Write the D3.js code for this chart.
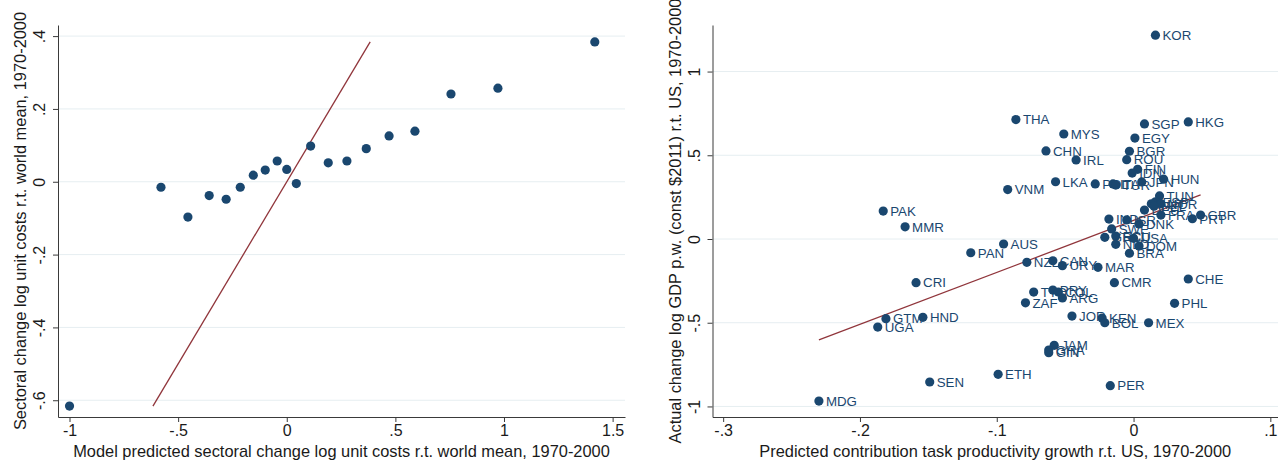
<!DOCTYPE html>
<html lang="en">
<head>
<meta charset="UTF-8">
<title>Unit costs and GDP per worker scatter</title>
<script src="https://d3js.org/d3.v7.min.js"></script>
<style>
  body { margin: 0; background: #fff; font-family: 'Liberation Sans', Arial, sans-serif; }
  .tick text { fill: #1a1a1a; font-size: 16px; }
  .title { fill: #1a1a1a; font-size: 16.4px; }
  .axis path, .axis line { stroke: #3a3a3a; }
  .grid line { stroke: #e6eef1; stroke-width: 1; }
  .lbl { fill: #1a476f; font-size: 13.3px; }
</style>
</head>
<body>
<svg id="chart" width="1278" height="460"></svg>
<script>
// ---- left panel: sectoral unit costs ----
const leftX = [-1.0, -0.579, -0.455, -0.357, -0.279, -0.214, -0.154, -0.099, -0.044, 0.000,
               0.044, 0.110, 0.191, 0.277, 0.366, 0.471, 0.590, 0.756, 0.972, 1.418];
const leftY = [-0.616, -0.015, -0.097, -0.038, -0.048, -0.015, 0.018, 0.032, 0.057, 0.034,
               -0.005, 0.098, 0.052, 0.057, 0.091, 0.126, 0.139, 0.241, 0.257, 0.384];
const leftXTicks = [-1, -0.5, 0, 0.5, 1, 1.5];
const leftXTickLabels = ["-1", "-.5", "0", ".5", "1", "1.5"];
const leftYTicks = [-0.6, -0.4, -0.2, 0, 0.2, 0.4];
const leftYTickLabels = ["-.6", "-.4", "-.2", "0", ".2", ".4"];

// ---- right panel: countries ----
const codes = ["KOR","THA","SGP","HKG","MYS","EGY","CHN","BGR","IRL","ROU",
               "FIN","IDN","HUN","JPN","LKA","POL","ITA","TUR","VNM","TUN",
               "AUT","ESP","NOR","BEL","DEU","FRA","GBR","PRT","IND","ISR",
               "DNK","SWE","GRC","ECU","USA","NLD","DOM","BRA","PAK","MMR",
               "AUS","PAN","NZL","CAN","URY","MAR","CRI","CMR","CHE","TTO",
               "PRY","COL","ARG","ZAF","PHL","GTM","HND","UGA","JOR","KEN",
               "BOL","MEX","JAM","GHA","GIN","ETH","SEN","PER","MDG"];
const predicted = [0.016,-0.086,0.008,0.040,-0.051,0.001,-0.064,-0.003,-0.042,-0.005,
                   0.003,-0.001,0.022,0.006,-0.057,-0.028,-0.015,-0.013,-0.092,0.019,
                   0.013,0.016,0.020,0.015,0.008,0.020,0.049,0.043,-0.018,-0.005,
                   0.004,-0.016,-0.021,-0.013,0.000,-0.013,0.004,-0.003,-0.183,-0.167,
                   -0.095,-0.119,-0.078,-0.059,-0.052,-0.026,-0.159,-0.014,0.040,-0.073,
                   -0.059,-0.055,-0.052,-0.079,0.030,-0.181,-0.154,-0.187,-0.045,-0.023,
                   -0.021,0.011,-0.058,-0.062,-0.062,-0.099,-0.149,-0.017,-0.230];
const actual = [1.217,0.713,0.687,0.699,0.627,0.603,0.526,0.524,0.472,0.474,
                0.416,0.394,0.357,0.341,0.342,0.329,0.329,0.322,0.295,0.257,
                0.210,0.222,0.210,0.196,0.173,0.143,0.143,0.121,0.119,0.114,
                0.090,0.060,0.010,0.018,0.004,-0.032,-0.042,-0.085,0.167,0.073,
                -0.030,-0.082,-0.139,-0.130,-0.159,-0.169,-0.261,-0.261,-0.239,-0.317,
                -0.305,-0.317,-0.352,-0.381,-0.384,-0.476,-0.468,-0.526,-0.460,-0.472,
                -0.500,-0.500,-0.635,-0.663,-0.679,-0.808,-0.854,-0.876,-0.968];
const fitX = [-0.230, 0.049];
const fitY = [-0.603, 0.263];
const rightXTicks = [-0.3, -0.2, -0.1, 0, 0.1];
const rightXTickLabels = ["-.3", "-.2", "-.1", "0", ".1"];
const rightYTicks = [-1, -0.5, 0, 0.5, 1];
const rightYTickLabels = ["-1", "-.5", "0", ".5", "1"];

const navy = "#1a476f", maroon = "#90353b";
const svg = d3.select("#chart");

function drawPanel(p) {
  const x = d3.scaleLinear().domain(p.xDomain).range([p.left, p.right]);
  const y = d3.scaleLinear().domain(p.yDomain).range([p.bottom, p.top]);
  const g = svg.append("g");

  // horizontal grid
  g.append("g").attr("class", "grid").selectAll("line")
    .data(p.yTicks).enter().append("line")
    .attr("x1", p.left).attr("x2", p.right)
    .attr("y1", d => y(d)).attr("y2", d => y(d));

  // x axis
  g.append("g").attr("class", "axis")
    .attr("transform", `translate(0,${p.bottom})`)
    .call(d3.axisBottom(x).tickValues(p.xTicks).tickSize(5).tickSizeOuter(0)
      .tickFormat((d, i) => p.xLabels[i]))
    .call(a => a.selectAll("text").attr("y", 8));

  // y axis, labels rotated like Stata
  g.append("g").attr("class", "axis")
    .attr("transform", `translate(${p.left},0)`)
    .call(d3.axisLeft(y).tickValues(p.yTicks).tickSize(5).tickSizeOuter(0)
      .tickFormat((d, i) => p.yLabels[i]))
    .call(a => a.selectAll("text")
      .attr("transform", "rotate(-90)")
      .attr("x", 0).attr("y", -13).attr("dy", 0)
      .attr("text-anchor", "middle"));
  g.selectAll(".axis").attr("font-family", null).attr("font-size", null);

  // fit line
  g.append("path")
    .datum(p.fit)
    .attr("fill", "none").attr("stroke", maroon).attr("stroke-width", 1.3)
    .attr("d", d3.line().x(d => x(d[0])).y(d => y(d[1])));

  // points
  g.selectAll("circle").data(p.points).enter().append("circle")
    .attr("cx", d => x(d.x)).attr("cy", d => y(d.y)).attr("r", 4.6)
    .attr("fill", navy);

  if (p.labels) {
    g.selectAll(".lbl").data(p.points).enter().append("text")
      .attr("class", "lbl")
      .attr("x", d => x(d.x) + 7).attr("y", d => y(d.y)).attr("dy", "0.36em")
      .text(d => d.code);
  }

  // titles
  g.append("text").attr("class", "title")
    .attr("x", (p.left + p.right) / 2).attr("y", 451).attr("dy", "0.35em")
    .attr("text-anchor", "middle").text(p.xTitle);
  g.append("text").attr("class", "title")
    .attr("transform", `translate(${p.yTitleX},${(p.top + p.bottom) / 2}) rotate(-90)`)
    .attr("dy", "0.35em").attr("text-anchor", "middle").text(p.yTitle);
}

// left panel: 45-degree line over the range of the outcome
const lyMin = d3.min(leftY), lyMax = d3.max(leftY);
drawPanel({
  left: 58, right: 625, top: 25, bottom: 417,
  xDomain: [-1.053, 1.557], yDomain: [-0.646, 0.4305],
  xTicks: leftXTicks, xLabels: leftXTickLabels,
  yTicks: leftYTicks, yLabels: leftYTickLabels,
  points: leftX.map((v, i) => ({x: v, y: leftY[i]})),
  fit: [[lyMin, lyMin], [lyMax, lyMax]],
  xTitle: "Model predicted sectoral change log unit costs r.t. world mean, 1970-2000",
  yTitle: "Sectoral change log unit costs r.t. world mean, 1970-2000",
  yTitleX: 20
});

// right panel
drawPanel({
  left: 712.5, right: 1278, top: 25, bottom: 417,
  xDomain: [-0.3078, 0.1056], yDomain: [-1.063, 1.278],
  xTicks: rightXTicks, xLabels: rightXTickLabels,
  yTicks: rightYTicks, yLabels: rightYTickLabels,
  points: codes.map((c, i) => ({code: c, x: predicted[i], y: actual[i]})),
  fit: fitX.map((v, i) => [v, fitY[i]]),
  labels: true,
  xTitle: "Predicted contribution task productivity growth r.t. US, 1970-2000",
  yTitle: "Actual change log GDP p.w. (const $2011) r.t. US, 1970-2000",
  yTitleX: 675
});
</script>
</body>
</html>
